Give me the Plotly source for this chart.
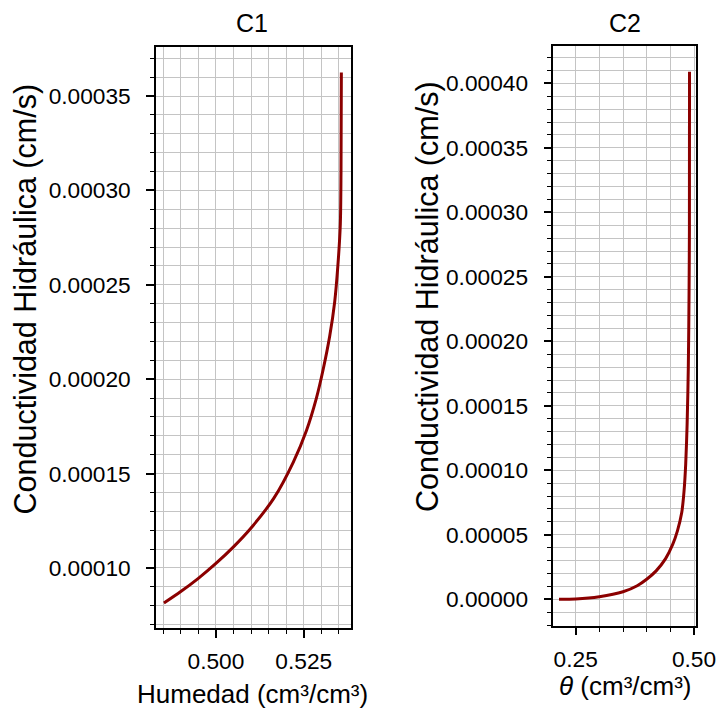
import plotly.graph_objects as go

# Hydraulic conductivity curves for two soils (volumetric water content vs K)
c1_theta = [0.4852, 0.4900, 0.4950, 0.5000, 0.5050, 0.5100, 0.5165, 0.5220,
            0.5258, 0.5286, 0.5305, 0.5324, 0.5338, 0.5347, 0.5354, 0.5356, 0.5357]
c1_k = [0.0000814, 0.0000875, 0.0000945, 0.0001024, 0.0001112, 0.0001212,
        0.0001370, 0.0001560, 0.0001730, 0.0001900, 0.0002050, 0.0002230,
        0.0002410, 0.0002600, 0.0002820, 0.0003100, 0.0003625]

c2_theta = [0.2147, 0.2500, 0.3000, 0.3500, 0.3800, 0.4000, 0.4200, 0.4400,
            0.4550, 0.4650, 0.4740, 0.4790, 0.4825, 0.4855, 0.4880, 0.4895,
            0.4903, 0.4905]
c2_k = [0.0000001, 0.0000003, 0.0000020, 0.0000058, 0.0000105, 0.0000155,
        0.0000220, 0.0000315, 0.0000425, 0.0000530, 0.0000670, 0.0000840,
        0.0001050, 0.0001360, 0.0001800, 0.0002350, 0.0002860, 0.0004090]

panel_titles = ["C1", "C2"]
y_title = "Conductividad Hidráulica (cm/s)"
x_titles = ["Humedad (cm³/cm³)", "<i>θ</i> (cm³/cm³)"]

W, H = 719, 709
FONT = "Liberation Sans, Arial, sans-serif"
LINE = "#8b0000"
GRID = "#c4c4c4"

fig = go.Figure()
fig.add_trace(go.Scatter(x=c1_theta, y=c1_k, mode="lines",
                         line=dict(color=LINE, width=3, shape="spline", smoothing=0.8),
                         xaxis="x", yaxis="y", showlegend=False))
fig.add_trace(go.Scatter(x=c2_theta, y=c2_k, mode="lines",
                         line=dict(color=LINE, width=3, shape="spline", smoothing=0.8),
                         xaxis="x2", yaxis="y2", showlegend=False))


def px_x(p):
    return p / W


def px_y(p):
    return 1 - p / H


common = dict(
    showline=True, linecolor="black", linewidth=1.5, mirror=True,
    ticks="outside", ticklen=8, tickwidth=1.6, tickcolor="black",
    showgrid=True, gridcolor=GRID, gridwidth=1.1,
    zeroline=False, automargin=False,
    tickfont=dict(family=FONT, size=22.7, color="black"),
)


def minor(d):
    return dict(dtick=d, ticks="outside", ticklen=4.5, tickwidth=1.3,
                tickcolor="black", showgrid=True, gridcolor=GRID, gridwidth=1.1)


fig.update_layout(
    width=W, height=H, autosize=False,
    margin=dict(l=0, r=0, t=0, b=0, pad=0, autoexpand=False),
    plot_bgcolor="white", paper_bgcolor="white",
    font=dict(family=FONT, color="black"),
    xaxis=dict(**common, domain=[px_x(156), px_x(350.5)], range=[0.48295, 0.5383],
               dtick=0.025, tick0=0, tickformat=".3f", minor=minor(0.005),
               anchor="y", ticklabelstandoff=4),
    yaxis=dict(**common, domain=[px_y(628), px_y(47)], range=[0.0000682, 0.000376],
               dtick=0.00005, tick0=0, tickformat=".5f", minor=minor(0.00001),
               anchor="x", ticklabelstandoff=11),
    xaxis2=dict(**common, domain=[px_x(553.3), px_x(695.7)], range=[0.2027, 0.5036],
                dtick=0.25, tick0=0, tickformat=".2f", minor=minor(0.05),
                anchor="y2", ticklabelstandoff=4),
    yaxis2=dict(**common, domain=[px_y(625.7), px_y(46)], range=[-0.0000205, 0.000429],
                dtick=0.00005, tick0=0, tickformat=".5f", minor=minor(0.00001),
                anchor="x2", ticklabelstandoff=11),
)


def label(text, x, y, size, angle=0):
    fig.add_annotation(text=text, x=px_x(x), y=px_y(y), xref="paper", yref="paper",
                       showarrow=False, xanchor="center", yanchor="middle",
                       textangle=angle, font=dict(family=FONT, size=size, color="black"))


# panel titles
label(panel_titles[0], 251.7, 22.8, 25)
label(panel_titles[1], 624.5, 22.8, 25)
# axis titles
label(x_titles[0], 252.5, 694, 26)
label(x_titles[1], 625.5, 686, 26)
label(y_title, 25, 299.5, 30.5, -90)
label(y_title, 427, 296, 30.5, -90)

fig.write_html("out.html")
